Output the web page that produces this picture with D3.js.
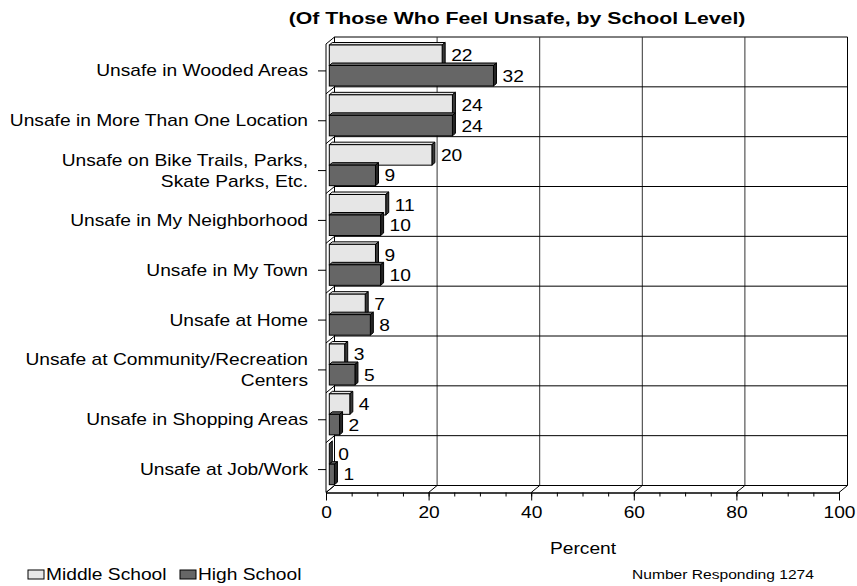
<!DOCTYPE html>
<html>
<head>
<meta charset="utf-8">
<script src="https://cdn.jsdelivr.net/npm/d3@7/dist/d3.min.js"></script>
<style>
  html, body { margin: 0; padding: 0; background: #fff; }
  svg { display: block; font-family: Arial, "Liberation Sans", sans-serif; }
</style>
</head>
<body>
<svg id="chart" width="857" height="586"></svg>
<script>
// Where students feel unsafe, by school level (percent)
const categories = [
  ["Unsafe in Wooded Areas"],
  ["Unsafe in More Than One Location"],
  ["Unsafe on Bike Trails, Parks,", "Skate Parks, Etc."],
  ["Unsafe in My Neighborhood"],
  ["Unsafe in My Town"],
  ["Unsafe at Home"],
  ["Unsafe at Community/Recreation", "Centers"],
  ["Unsafe in Shopping Areas"],
  ["Unsafe at Job/Work"]
];
const middleSchool = [22, 24, 20, 11, 9, 7, 3, 4, 0];
const highSchool   = [32, 24, 9, 10, 10, 8, 5, 2, 1];
const seriesNames  = ["Middle School", "High School"];
const xTicks       = [0, 20, 40, 60, 80, 100];
const xMinorTicks  = d3.range(0, 101, 5);

const title = "(Of Those Who Feel Unsafe, by School Level)";
const axisTitle = "Percent";
const footnote = "Number Responding 1274";

const fills = ["#e6e6e6", "#666666"];
const sideFills = ["#3a3a3a", "#262626"];

// the chart's lettering is set wide: a horizontal stretch on every label
const stretch = 1.2;

const svg = d3.select("#chart");

function label(parent, x, y, str, opts = {}) {
  const g = parent.append("g")
    .attr("transform", `translate(${x},${y}) scale(${opts.sx || stretch},1)`);
  return g.append("text")
    .attr("x", 0).attr("y", 0)
    .attr("text-anchor", opts.anchor || "start")
    .attr("dominant-baseline", "central")
    .attr("font-size", opts.size || 16)
    .attr("font-weight", opts.weight || "normal")
    .attr("fill", "#000")
    .text(str);
}

// 3-D box geometry: front plane and the depth offset to the back wall
const depth = { dx: 8.5, dy: -7 };
const front = { left: 326, right: 839, top: 44, bottom: 492.5 };
const back = {
  left: front.left + depth.dx, right: front.right + depth.dx,
  top: front.top + depth.dy, bottom: front.bottom + depth.dy
};

const x = d3.scaleLinear().domain([0, 100]).range([front.left, front.right]);
const keys = categories.map((d, i) => i);
const yBack = d3.scaleBand().domain(keys).range([back.top, back.bottom]).padding(0);
const bw = yBack.bandwidth();

const wall = svg.append("g").attr("fill", "none").attr("stroke", "#000").attr("stroke-width", 1);

// back wall outline and gridlines
wall.append("line").attr("x1", back.left).attr("x2", back.right).attr("y1", back.top).attr("y2", back.top);
wall.append("line").attr("x1", back.right).attr("x2", back.right).attr("y1", back.top).attr("y2", back.bottom);
wall.selectAll(".vgrid").data(xTicks.slice(1, -1)).join("line")
  .attr("x1", d => x(d) + depth.dx).attr("x2", d => x(d) + depth.dx)
  .attr("y1", back.top).attr("y2", back.bottom).attr("stroke", "#333");
wall.selectAll(".hgrid").data(keys.slice(1).concat([keys.length])).join("line")
  .attr("x1", back.left).attr("x2", back.right)
  .attr("y1", d => back.top + d * bw).attr("y2", d => back.top + d * bw);
wall.append("line").attr("x1", back.left).attr("x2", back.left).attr("y1", back.top).attr("y2", back.bottom);

// floor: depth diagonals at major ticks
xTicks.forEach(t => {
  wall.append("line")
    .attr("x1", x(t)).attr("y1", front.bottom)
    .attr("x2", x(t) + depth.dx).attr("y2", back.bottom);
});

// left wall: front edge and depth diagonals at category boundaries
wall.append("line").attr("x1", front.left).attr("x2", front.left).attr("y1", front.top).attr("y2", front.bottom);
d3.range(categories.length + 1).forEach(k => {
  wall.append("line")
    .attr("x1", front.left).attr("y1", front.top + k * bw)
    .attr("x2", back.left).attr("y2", back.top + k * bw);
});

// bars: drawn as shallow boxes inside the depth
const barDepth = { offX: 3.3, sx: 3, sy: -2.5 };
const barH = 20.5;
const barTop0 = 8;
const series = [middleSchool, highSchool];

const bars = svg.append("g");
const valueLabels = svg.append("g");
categories.forEach((c, i) => {
  series.forEach((vals, s) => {
    const v = vals[i];
    const x0 = x(0) + barDepth.offX;
    const x1 = x(v) + barDepth.offX;
    const yt = yBack(i) + barTop0 + s * barH;
    const yb = yt + barH;
    const g = bars.append("g").attr("stroke", "#000").attr("stroke-width", 1);
    // top face
    g.append("path")
      .attr("d", `M${x0},${yt}L${x0 + barDepth.sx},${yt + barDepth.sy}L${x1 + barDepth.sx},${yt + barDepth.sy}L${x1},${yt}Z`)
      .attr("fill", fills[s]);
    // side face
    g.append("path")
      .attr("d", `M${x1},${yt}L${x1 + barDepth.sx},${yt + barDepth.sy}L${x1 + barDepth.sx},${yb + barDepth.sy}L${x1},${yb}Z`)
      .attr("fill", sideFills[s]);
    // front face
    g.append("rect")
      .attr("x", x0).attr("y", yt)
      .attr("width", Math.max(0, x1 - x0)).attr("height", barH)
      .attr("fill", fills[s]);
    // value label
    label(valueLabels, x1 + barDepth.sx + 6, yt + barH / 2 + 0.5, v);
  });
});

// x axis along the front edge of the floor
const axisG = svg.append("g").attr("transform", `translate(0,${front.bottom})`);
axisG.call(d3.axisBottom(x).tickValues(xMinorTicks).tickSize(4).tickSizeOuter(0).tickFormat(""));
axisG.selectAll("line, path").attr("stroke", "#000");
const majorG = svg.append("g").attr("transform", `translate(0,${front.bottom})`);
majorG.call(d3.axisBottom(x).tickValues(xTicks).tickSize(8).tickSizeOuter(0).tickPadding(6).tickFormat(d3.format("d")));
majorG.selectAll("text")
  .attr("font-size", 16).attr("fill", "#000")
  .attr("transform", `scale(${stretch},1)`)
  .style("font-family", "Arial, 'Liberation Sans', sans-serif");
majorG.selectAll("line, path").attr("stroke", "#000");

// category ticks and labels
const labelY = i => yBack(i) + bw / 2 + 9;
const catG = svg.append("g");
keys.forEach(i => {
  catG.append("line")
    .attr("x1", front.left - 8).attr("x2", front.left)
    .attr("y1", labelY(i)).attr("y2", labelY(i))
    .attr("stroke", "#000");
  const lines = categories[i];
  const lh = 21;
  lines.forEach((ln, j) => {
    label(catG, 308, labelY(i) + (j - (lines.length - 1) / 2) * lh, ln, { anchor: "end" });
  });
});

// title
label(svg, 517, 18, title, { anchor: "middle", size: 17, weight: "bold", sx: 1.25 });

// axis title
label(svg, 583, 549, axisTitle, { anchor: "middle" });

// legend
const legend = svg.append("g");
const legendX = [28, 180];
seriesNames.forEach((name, s) => {
  legend.append("rect")
    .attr("x", legendX[s]).attr("y", 570).attr("width", 16).attr("height", 9)
    .attr("fill", fills[s]).attr("stroke", "#000");
  label(legend, legendX[s] + 18, 575, name);
});

// footnote
label(svg, 632, 574, footnote, { size: 13 });
</script>
</body>
</html>
